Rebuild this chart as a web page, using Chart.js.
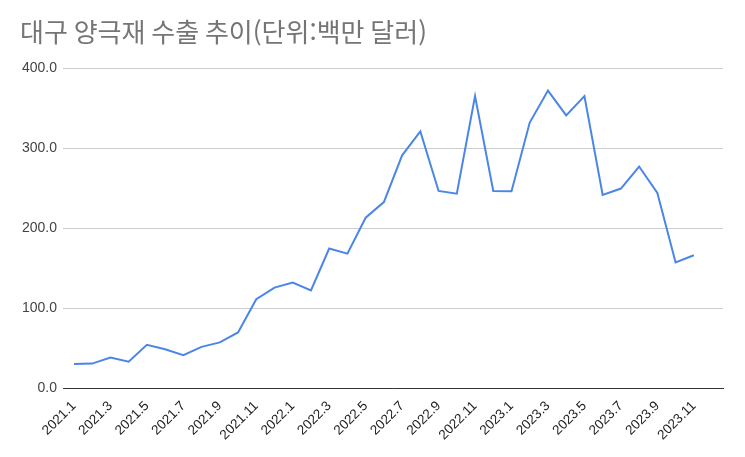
<!DOCTYPE html>
<html lang="ko">

<head>
    <meta charset="UTF-8">
    <title>대구 양극재 수출 추이</title>
    <script src="https://cdn.jsdelivr.net/npm/chart.js"></script>
    <style>
        body { margin: 0; background: #fff; }
    </style>
</head>

<body>
    <canvas id="myChart" width="745" height="457"></canvas>

    <script>
        // months 2021.1 .. 2023.11
        const months = [
            '2021.1', '2021.2', '2021.3', '2021.4', '2021.5', '2021.6', '2021.7', '2021.8', '2021.9', '2021.10', '2021.11', '2021.12',
            '2022.1', '2022.2', '2022.3', '2022.4', '2022.5', '2022.6', '2022.7', '2022.8', '2022.9', '2022.10', '2022.11', '2022.12',
            '2023.1', '2023.2', '2023.3', '2023.4', '2023.5', '2023.6', '2023.7', '2023.8', '2023.9', '2023.10', '2023.11'
        ];
        // export value, million USD
        const exports = [
            30, 30.5, 38, 33, 54, 48.5, 41, 51.5, 57, 69.5, 111, 125.5,
            132, 122, 174.5, 168, 213, 232.5, 291, 321, 246.5, 243, 365, 246.5,
            246, 332, 372, 341, 365, 241.5, 249.5, 277, 244, 157, 166
        ];
        const yTicks = [0, 100, 200, 300, 400];

        const fontFamily = "'Liberation Sans', Arial, 'Noto Sans CJK KR', sans-serif";

        const ctx = document.getElementById('myChart').getContext('2d');
        const chart = new Chart(ctx, {
            type: 'line',
            data: {
                datasets: [{
                    label: '수출',
                    data: exports.map((v, i) => ({ x: i, y: v })),
                    borderColor: '#4a86e8',
                    borderWidth: 2,
                    pointRadius: 0,
                    tension: 0,
                    fill: false
                }]
            },
            options: {
                responsive: false,
                animation: false,
                layout: {
                    padding: { left: 20, right: 22, top: 0, bottom: 0 }
                },
                plugins: {
                    legend: { display: false },
                    tooltip: { enabled: false },
                    title: {
                        display: true,
                        text: '대구 양극재 수출 추이(단위:백만 달러)',
                        align: 'start',
                        color: '#757575',
                        font: { family: "'Noto Sans CJK KR', sans-serif", size: 26, weight: 'normal', lineHeight: 1.2 },
                        padding: { top: 17, bottom: 20 }
                    }
                },
                scales: {
                    x: {
                        type: 'linear',
                        min: -0.6,
                        max: 35.6,
                        afterBuildTicks: function (scale) {
                            scale.ticks = months.map((m, i) => ({ value: i })).filter(t => t.value % 2 === 0);
                        },
                        afterFit: function (scale) {
                            scale.height = 69;
                        },
                        grid: { display: false },
                        border: { display: true, color: '#333', width: 1 },
                        ticks: {
                            autoSkip: false,
                            maxRotation: 45,
                            minRotation: 45,
                            padding: 2,
                            color: '#222',
                            font: { family: fontFamily, size: 13.5 },
                            callback: function (value) {
                                return months[value];
                            }
                        }
                    },
                    y: {
                        min: 0,
                        max: 400,
                        afterBuildTicks: function (scale) {
                            scale.ticks = yTicks.map(v => ({ value: v }));
                        },
                        afterFit: function (scale) {
                            scale.width = 43;
                        },
                        grid: { color: '#cccccc', drawTicks: false },
                        border: { display: false },
                        ticks: {
                            padding: 6,
                            color: '#444',
                            font: { family: fontFamily, size: 14 },
                            callback: function (value) {
                                return value.toFixed(1);
                            }
                        }
                    }
                }
            }
        });
    </script>
</body>

</html>
